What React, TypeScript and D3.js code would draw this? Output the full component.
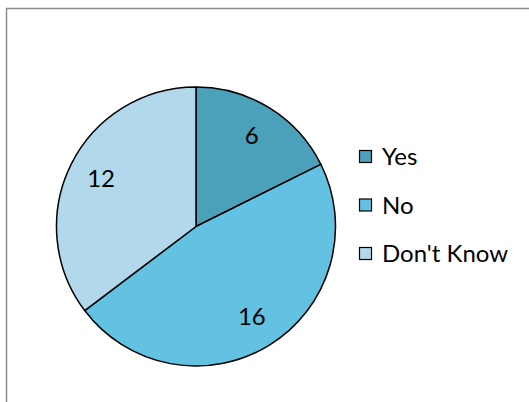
import React, { useEffect, useRef } from "react";
import * as d3 from "d3";

const categories = ["Yes", "No", "Don't Know"];
const values = [6, 16, 12];
const colors = ["#4BA0BA", "#63C1E1", "#B1D9EB"];

const W = 529;
const H = 402;

const App: React.FC = () => {
  const ref = useRef<SVGSVGElement>(null);

  useEffect(() => {
    if (!ref.current) return;
    const svg = d3.select(ref.current);
    svg.selectAll("*").remove();

    const font = "Lato, 'Open Sans', sans-serif";
    const cx = 196;
    const cy = 226.5;
    const r = 139.5;

    // chart frame (only left and top edges are visible)
    svg.append("rect")
      .attr("x", 6.5).attr("y", 8.5)
      .attr("width", W + 20).attr("height", H + 20)
      .attr("fill", "#fff")
      .attr("stroke", "#8c8c8c")
      .attr("stroke-width", 1.5);

    const pie = d3.pie<number>().sort(null).value((d) => d);
    const arcs = pie(values);
    const arc = d3.arc<d3.PieArcDatum<number>>().innerRadius(0).outerRadius(r);
    const labelArc = d3.arc<d3.PieArcDatum<number>>().innerRadius(106).outerRadius(106);

    const g = svg.append("g").attr("transform", `translate(${cx},${cy})`);

    g.selectAll("path.slice")
      .data(arcs)
      .enter().append("path")
      .attr("class", "slice")
      .attr("d", arc)
      .attr("fill", (d, i) => colors[i])
      .attr("stroke", "#000")
      .attr("stroke-width", 1.5)
      .attr("stroke-linejoin", "round");

    g.selectAll("text.lbl")
      .data(arcs)
      .enter().append("text")
      .attr("class", "lbl")
      .attr("transform", (d) => `translate(${labelArc.centroid(d)})`)
      .attr("text-anchor", "middle")
      .attr("dy", "0.33em")
      .attr("font-family", font)
      .attr("font-size", 24)
      .attr("fill", "#000")
      .text((d) => String(d.data));

    const legend = svg.append("g");
    const ly = d3.scalePoint<string>().domain(categories).range([157, 254]);
    categories.forEach((c, i) => {
      const y = ly(c) ?? 0;
      legend.append("rect")
        .attr("x", 359.5).attr("y", y - 6.5)
        .attr("width", 12).attr("height", 12)
        .attr("fill", colors[i])
        .attr("stroke", "#000")
        .attr("stroke-width", 1.2);
      legend.append("text")
        .attr("x", 382).attr("y", y)
        .attr("dy", "0.35em")
        .attr("font-family", font)
        .attr("font-size", 24)
        .attr("fill", "#000")
        .text(c);
    });
  }, []);

  return (
    <svg
      ref={ref}
      width={W}
      height={H}
      style={{ position: "absolute", left: 0, top: 0, background: "#fff" }}
    />
  );
};

export default App;
